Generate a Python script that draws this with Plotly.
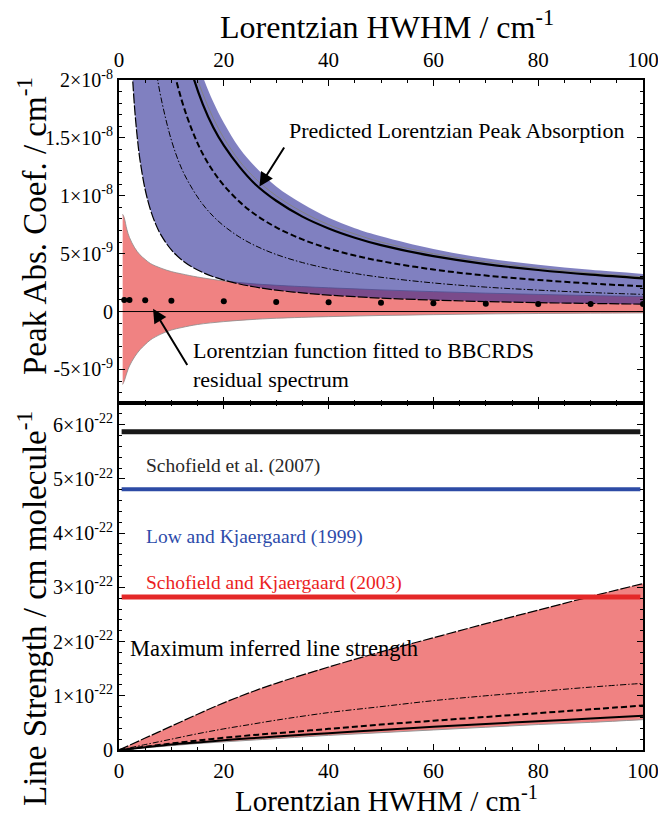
import plotly.graph_objects as go

# ---------------- data ----------------
# Top panel: predicted Lorentzian peak absorption (units 1e-9 cm^-1)
x_top = [2, 2.5, 3, 3.5, 4, 5, 6, 7, 8, 10, 12, 14, 16, 18, 20, 23, 26, 30, 35, 40, 45, 50, 60, 70, 80, 90, 100]
pred_upper = [162, 130, 108, 93, 81, 65, 54, 46, 41, 32.5, 27, 23.2, 20.3, 18.1, 16.3, 14.1, 12.5, 10.8, 9.3, 8.1, 7.2, 6.5, 5.4, 4.6, 4.05, 3.6, 3.25]
pred_gray = [150, 120, 100, 86, 75, 60, 50, 43, 37.5, 30, 25, 21.4, 18.8, 16.7, 15, 13, 11.5, 10, 8.6, 7.5, 6.7, 6.0, 5.0, 4.3, 3.75, 3.33, 3.0]
pred_solid = [143.5, 115, 95.7, 82, 71.8, 57.4, 47.8, 41, 35.9, 28.7, 23.9, 20.5, 17.9, 15.9, 14.35, 12.5, 11.0, 9.57, 8.2, 7.18, 6.38, 5.74, 4.78, 4.1, 3.59, 3.19, 2.87]
pred_dashed = [109, 87.2, 72.7, 62.3, 54.5, 43.6, 36.3, 31.1, 27.3, 21.8, 18.2, 15.6, 13.6, 12.1, 10.9, 9.48, 8.38, 7.27, 6.23, 5.45, 4.84, 4.36, 3.63, 3.11, 2.73, 2.42, 2.18]
pred_dashdot = [74, 59.2, 49.3, 42.3, 37, 29.6, 24.7, 21.1, 18.5, 14.8, 12.3, 10.6, 9.25, 8.22, 7.4, 6.43, 5.69, 4.93, 4.23, 3.7, 3.29, 2.96, 2.47, 2.11, 1.85, 1.64, 1.48]
pred_lower = [26.1, 20.9, 17.45, 14.98, 13.1, 10.52, 8.79, 7.55, 6.62, 5.32, 4.45, 3.83, 3.37, 3.01, 2.72, 2.38, 2.12, 1.85, 1.61, 1.42, 1.28, 1.16, 0.99, 0.86, 0.77, 0.70, 0.64]

# Lorentzian fitted to residual spectrum (units 1e-9 cm^-1)
x_fit = [0.7, 1, 1.5, 2, 3, 4, 5, 6, 8, 10, 12, 15, 20, 25, 30, 40, 50, 60, 70, 80, 90, 100]
fit_upper = [8.4, 8.1, 7.1, 6.4, 5.5, 4.9, 4.5, 4.15, 3.75, 3.45, 3.25, 2.98, 2.65, 2.42, 2.27, 2.05, 1.87, 1.72, 1.59, 1.48, 1.38, 1.3]
fit_lower = [-6.3, -6.0, -5.3, -4.7, -3.9, -3.3, -2.85, -2.45, -1.95, -1.6, -1.38, -1.12, -0.87, -0.7, -0.58, -0.44, -0.34, -0.27, -0.21, -0.17, -0.14, -0.12]
x_dots = [1, 2, 5, 10, 20, 30, 40, 50, 60, 70, 80, 90, 100]
fit_dots = [1.0, 1.0, 0.97, 0.93, 0.88, 0.83, 0.8, 0.75, 0.71, 0.68, 0.66, 0.65, 0.66]

# Bottom panel: line strength (units 1e-22 cm molecule^-1)
x_bot = [0, 5, 10, 15, 20, 25, 30, 40, 50, 60, 70, 80, 90, 100]
ls_upper = [0, 0.22, 0.44, 0.66, 0.87, 1.06, 1.23, 1.53, 1.81, 2.07, 2.33, 2.58, 2.83, 3.07]
ls_dashdot = [0, 0.1, 0.2, 0.3, 0.39, 0.47, 0.55, 0.69, 0.8, 0.91, 1.0, 1.08, 1.16, 1.23]
ls_dashed = [0, 0.06, 0.12, 0.175, 0.225, 0.27, 0.31, 0.39, 0.47, 0.54, 0.61, 0.68, 0.75, 0.82]
ls_solid = [0, 0.05, 0.1, 0.14, 0.18, 0.215, 0.25, 0.31, 0.37, 0.43, 0.48, 0.53, 0.58, 0.63]
ls_lower = [0, 0.04, 0.08, 0.12, 0.15, 0.18, 0.21, 0.27, 0.32, 0.37, 0.42, 0.47, 0.51, 0.56]

lit_names = ["Schofield et al. (2007)", "Low and Kjaergaard (1999)", "Schofield and Kjaergaard (2003)"]
lit_values = [5.87, 4.81, 2.82]
lit_span = [0.5, 99.5]

top_ticks = [-5, 0, 5, 10, 15, 20]
top_ticktext = ["-5×10<sup>-9</sup>", "0", "5×10<sup>-9</sup>", "1×10<sup>-8</sup>", "1.5×10<sup>-8</sup>", "2×10<sup>-8</sup>"]
bot_ticks = [0, 1, 2, 3, 4, 5, 6]
bot_ticktext = ["0"] + [f"{v}×10<sup>-22</sup>" for v in bot_ticks[1:]]
x_ticks = [0, 20, 40, 60, 80, 100]

S1 = 1e-9
S2 = 1e-22

def sc(arr, s):
    return [v * s for v in arr]

FONT = "Liberation Serif"
RED_FILL = "rgb(240,130,130)"
BLUE_FILL = "rgba(36,36,146,0.58)"
DASH = "6px,3px"
LONGDASH = "10px,2px"
DASHDOT = "6px,2px,1.5px,2px"

fig = go.Figure()

# ---- top panel ----
fig.add_trace(go.Scatter(x=x_fit, y=sc(fit_lower, S1), mode="lines", line=dict(color="rgb(140,140,140)", width=0.8, shape="spline"), xaxis="x", yaxis="y", showlegend=False))
fig.add_trace(go.Scatter(x=x_fit, y=sc(fit_upper, S1), mode="lines", fill="tonexty", fillcolor=RED_FILL, line=dict(color="rgb(140,140,140)", width=0.8, shape="spline"), xaxis="x", yaxis="y", showlegend=False))
fig.add_trace(go.Scatter(x=x_top, y=sc(pred_lower, S1), mode="lines", line=dict(width=0, shape="spline"), xaxis="x", yaxis="y", showlegend=False))
fig.add_trace(go.Scatter(x=x_top, y=sc(pred_upper, S1), mode="lines", fill="tonexty", fillcolor=BLUE_FILL, line=dict(width=0, shape="spline"), xaxis="x", yaxis="y", showlegend=False))

top_lines = [
    (pred_lower, dict(color="black", width=1.2, dash=LONGDASH)),
    (pred_dashdot, dict(color="black", width=1, dash=DASHDOT)),
    (pred_dashed, dict(color="black", width=2, dash=DASH)),
    (pred_gray, dict(color="rgb(130,130,130)", width=1)),
    (pred_solid, dict(color="black", width=2.2)),
]
for ys, ln in top_lines:
    ln["shape"] = "spline"
    fig.add_trace(go.Scatter(x=x_top, y=sc(ys, S1), mode="lines", line=ln, xaxis="x", yaxis="y", showlegend=False))

fig.add_trace(go.Scatter(x=x_dots, y=sc(fit_dots, S1), mode="markers", marker=dict(color="black", size=6), xaxis="x", yaxis="y", showlegend=False))

# ---- bottom panel ----
fig.add_trace(go.Scatter(x=x_bot, y=sc(ls_lower, S2), mode="lines", line=dict(color="rgb(150,150,150)", width=1, shape="spline"), xaxis="x2", yaxis="y2", showlegend=False))
fig.add_trace(go.Scatter(x=x_bot, y=sc(ls_upper, S2), mode="lines", fill="tonexty", fillcolor=RED_FILL, line=dict(color="black", width=1.2, dash=LONGDASH, shape="spline"), xaxis="x2", yaxis="y2", showlegend=False))
for ys, ln in [
    (ls_dashdot, dict(color="black", width=1, dash=DASHDOT)),
    (ls_dashed, dict(color="black", width=2, dash=DASH)),
    (ls_solid, dict(color="black", width=2)),
]:
    ln["shape"] = "spline"
    fig.add_trace(go.Scatter(x=x_bot, y=sc(ys, S2), mode="lines", line=ln, xaxis="x2", yaxis="y2", showlegend=False))

lit_colors = ["rgb(25,25,25)", "rgb(45,75,165)", "rgb(228,40,40)"]
lit_widths = [5, 4, 5]
for v, c, w in zip(lit_values, lit_colors, lit_widths):
    fig.add_trace(go.Scatter(x=lit_span, y=[v * S2, v * S2], mode="lines", line=dict(color=c, width=w), xaxis="x2", yaxis="y2", showlegend=False))

# ---- layout ----
split = (750 - 403) / 670
axis_common = dict(showline=True, linewidth=2, linecolor="black", mirror="allticks", ticks="inside",
                   ticklen=6, tickwidth=1.2, tickcolor="black", showgrid=False, zeroline=False,
                   ticklabeloverflow="allow", automargin=False)

fig.update_layout(
    width=658, height=815,
    margin=dict(l=119, r=15, t=80, b=65, autoexpand=False),
    plot_bgcolor="white", paper_bgcolor="white",
    font=dict(family=FONT, color="black"),
    xaxis=dict(domain=[0, 1], anchor="y", side="top", range=[0, 100], tickvals=x_ticks,
               tickfont=dict(size=21, family=FONT), ticklabelstandoff=3,
               minor=dict(tickmode="linear", tick0=0, dtick=5, ticks="inside", ticklen=3, tickcolor="black"),
               **axis_common),
    xaxis2=dict(domain=[0, 1], anchor="y2", side="bottom", range=[0, 100], tickvals=x_ticks,
                tickfont=dict(size=21, family=FONT), ticklabelstandoff=1,
                minor=dict(tickmode="linear", tick0=0, dtick=5, ticks="inside", ticklen=3, tickcolor="black"),
                **axis_common),
    yaxis=dict(domain=[split, 1], anchor="x", range=[-7.9e-9, 2e-8],
               tickvals=sc(top_ticks, S1), ticktext=top_ticktext, tickfont=dict(size=20, family=FONT),
               minor=dict(tickmode="linear", tick0=0, dtick=1e-9, ticks="inside", ticklen=3, tickcolor="black"),
               **axis_common),
    yaxis2=dict(domain=[0, split], anchor="x2", range=[0, 6.4e-22],
                tickvals=sc(bot_ticks, S2), ticktext=bot_ticktext, tickfont=dict(size=20, family=FONT),
                minor=dict(tickmode="linear", tick0=0, dtick=0.2e-22, ticks="inside", ticklen=3, tickcolor="black"),
                **axis_common),
)

# zero line in top panel (above fills)
fig.add_shape(type="line", xref="x domain", yref="y", x0=0, x1=1, y0=0, y1=0,
              line=dict(color="black", width=1), layer="above")

ann = []
# axis titles
ann.append(dict(text="Lorentzian HWHM / cm<sup>-1</sup>", xref="paper", yref="paper", x=0.511, y=(750 - 25) / 670,
                xanchor="center", yanchor="middle", showarrow=False, font=dict(size=32, family=FONT)))
ann.append(dict(text="Lorentzian HWHM / cm<sup>-1</sup>", xref="paper", yref="paper", x=0.511, y=(750 - 799) / 670,
                xanchor="center", yanchor="middle", showarrow=False, font=dict(size=29, family=FONT)))
ann.append(dict(text="Peak Abs. Coef. / cm<sup>-1</sup>", xref="paper", yref="paper", x=(32 - 119) / 524, y=(750 - 226) / 670,
                xanchor="center", yanchor="middle", textangle=-90, showarrow=False, font=dict(size=33, family=FONT)))
ann.append(dict(text="Line Strength / cm molecule<sup>-1</sup>", xref="paper", yref="paper", x=(32 - 119) / 524, y=(750 - 609) / 670,
                xanchor="center", yanchor="middle", textangle=-90, showarrow=False, font=dict(size=33, family=FONT)))

# top panel labels
ann.append(dict(text="Predicted Lorentzian Peak Absorption", xref="x", yref="y", x=32.1, y=15.6e-9,
                xanchor="left", yanchor="middle", showarrow=False, font=dict(size=22, family=FONT)))
ann.append(dict(text="", xref="x", yref="y", x=26.8, y=10.8e-9, axref="x", ayref="y", ax=31.7, ay=14.3e-9,
                showarrow=True, arrowhead=2, arrowsize=1.4, arrowwidth=2, arrowcolor="black"))
ann.append(dict(text="Lorentzian function fitted to BBCRDS<br>residual spectrum", xref="x", yref="y", x=13.7, y=-4.58e-9,
                xanchor="left", yanchor="middle", align="left", showarrow=False, font=dict(size=22, family=FONT)))
ann.append(dict(text="", xref="x", yref="y", x=6.5, y=0.25e-9, axref="x", ayref="y", ax=13.2, ay=-4.75e-9,
                showarrow=True, arrowhead=2, arrowsize=1.4, arrowwidth=2, arrowcolor="black"))

# bottom panel labels
lit_label_y = [5.24, 3.93, 3.08]
lit_text_colors = ["rgb(40,40,40)", "rgb(45,75,170)", "rgb(235,30,30)"]
for name, yv, c in zip(lit_names, lit_label_y, lit_text_colors):
    ann.append(dict(text=name, xref="x2", yref="y2", x=4.77, y=yv * S2, xanchor="left", yanchor="middle",
                    showarrow=False, font=dict(size=19.5, family=FONT, color=c)))
ann.append(dict(text="Maximum inferred line strength", xref="x2", yref="y2", x=1.72, y=1.88e-22, xanchor="left",
                yanchor="middle", showarrow=False, font=dict(size=22.5, family=FONT)))

fig.update_layout(annotations=ann)
fig.write_html("out.html")
